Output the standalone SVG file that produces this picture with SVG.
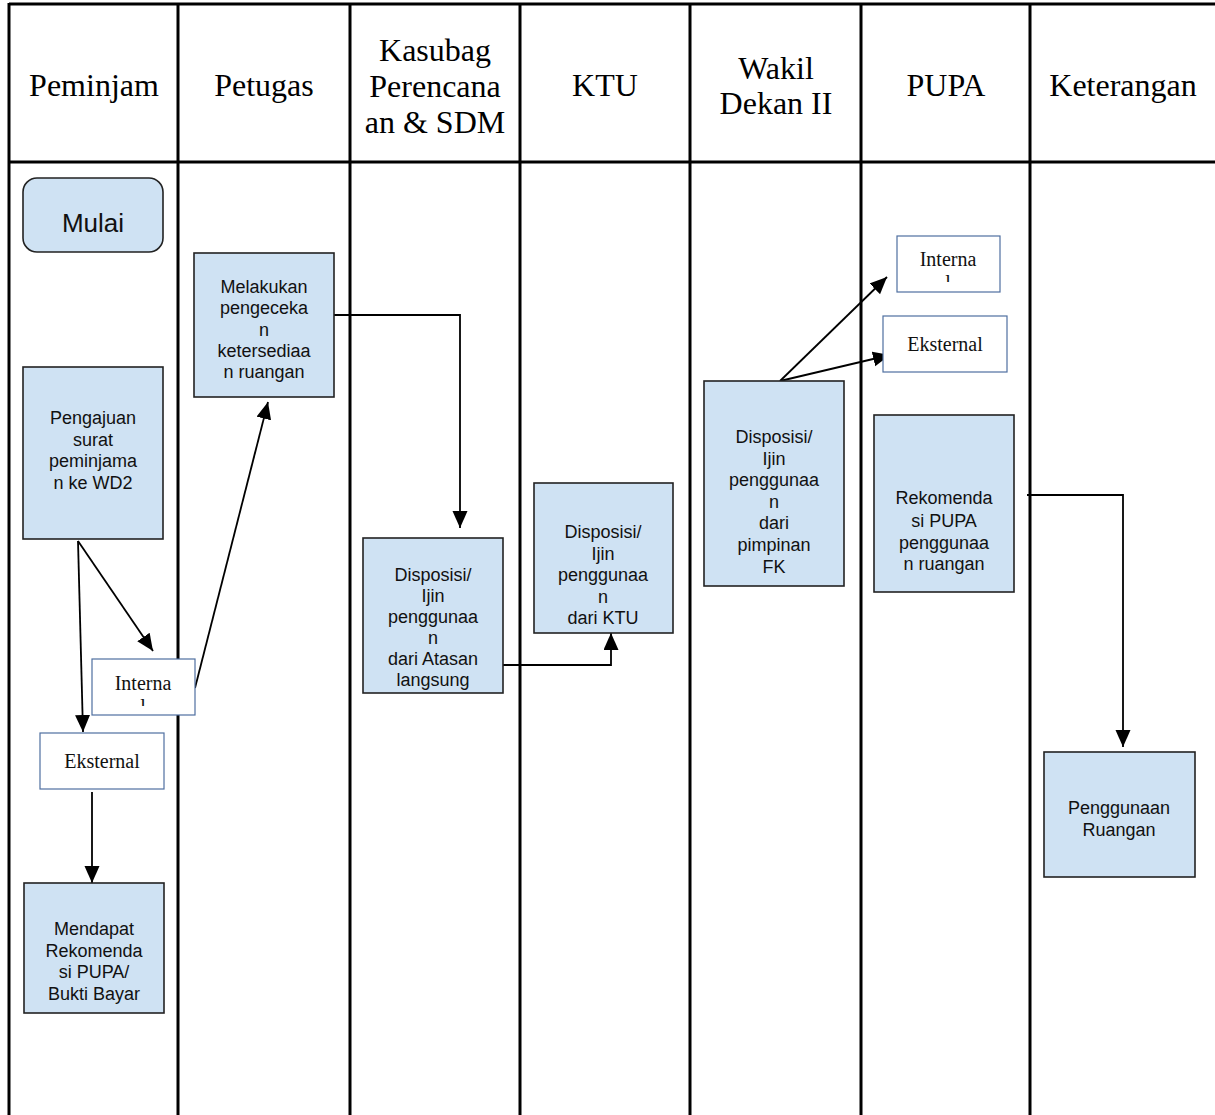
<svg xmlns="http://www.w3.org/2000/svg" width="1215" height="1115" viewBox="0 0 1215 1115">
<style>
.grid{stroke:#000;stroke-width:3;fill:none}
.hdr{font-family:"Liberation Serif","Times New Roman",serif;font-size:32px;fill:#000;text-anchor:middle}
.proc{fill:#cfe2f3;stroke:#222;stroke-width:1.6}
.opt{fill:#fff;stroke:#4f6fa0;stroke-width:1.2}
.t{font-family:"Liberation Sans",Arial,sans-serif;font-size:18px;fill:#111;text-anchor:middle}
.ot{font-family:"Liberation Serif","Times New Roman",serif;font-size:20px;fill:#111;text-anchor:middle}
.c{stroke:#000;stroke-width:1.8;fill:none;marker-end:url(#ah)}
</style>
<defs>
<marker id="ah" markerUnits="userSpaceOnUse" markerWidth="18" markerHeight="16" refX="17" refY="7.5" orient="auto">
<path d="M0,0 L17,7.5 L0,15 z" fill="#000"/>
</marker>
<clipPath id="clipL"><rect x="92" y="659" width="103" height="47"/></clipPath>
<clipPath id="clipR"><rect x="897" y="236" width="103" height="46"/></clipPath>
</defs>
<rect width="1215" height="1115" fill="#fff"/>
<g id="table">
<line class="grid" x1="9" y1="4" x2="1215" y2="4"/>
<line class="grid" x1="9" y1="162" x2="1215" y2="162"/>
<line class="grid" x1="9" y1="3" x2="9" y2="1115"/>
<line class="grid" x1="178" y1="3" x2="178" y2="1115"/>
<line class="grid" x1="350" y1="3" x2="350" y2="1115"/>
<line class="grid" x1="520" y1="3" x2="520" y2="1115"/>
<line class="grid" x1="690" y1="3" x2="690" y2="1115"/>
<line class="grid" x1="861" y1="3" x2="861" y2="1115"/>
<line class="grid" x1="1030" y1="3" x2="1030" y2="1115"/>
<text class="hdr" x="94" y="96">Peminjam</text>
<text class="hdr" x="264" y="96">Petugas</text>
<text class="hdr" x="435" y="61">Kasubag</text>
<text class="hdr" x="435" y="97">Perencana</text>
<text class="hdr" x="435" y="133">an &amp; SDM</text>
<text class="hdr" x="605" y="96">KTU</text>
<text class="hdr" x="776" y="79">Wakil</text>
<text class="hdr" x="776" y="114">Dekan II</text>
<text class="hdr" x="946" y="96">PUPA</text>
<text class="hdr" x="1123" y="96">Keterangan</text>
</g>
<g id="connectors">
<line class="c" x1="78" y1="541" x2="83" y2="732"/>
<line class="c" x1="78" y1="541" x2="153" y2="651"/>
<line class="c" x1="195" y1="688" x2="268" y2="402"/>
<line class="c" x1="92" y1="792" x2="92" y2="883"/>
<polyline class="c" points="334,315 460,315 460,528"/>
<polyline class="c" points="502,665 611,665 611,633"/>
<line class="c" x1="780" y1="381" x2="887" y2="277"/>
<line class="c" x1="780" y1="381" x2="890" y2="355"/>
<polyline class="c" points="1027,495 1123,495 1123,747"/>
</g>
<g id="mulai">
<rect class="proc" x="23" y="178" width="140" height="74" rx="14"/>
<text class="t" x="93" y="232" style="font-size:26px">Mulai</text>
</g>
<g id="pengajuan">
<rect class="proc" x="23" y="367" width="140" height="172"/>
<text class="t" x="93" y="424">Pengajuan</text>
<text class="t" x="93" y="446">surat</text>
<text class="t" x="93" y="467">peminjama</text>
<text class="t" x="93" y="489">n ke WD2</text>
</g>
<g id="interna1">
<rect class="opt" x="92" y="659" width="103" height="56"/>
<g clip-path="url(#clipL)">
<text class="ot" x="143" y="690">Interna</text>
<text class="ot" x="143" y="713">l</text>
</g>
</g>
<g id="eksternal1">
<rect class="opt" x="40" y="733" width="124" height="56"/>
<text class="ot" x="102" y="768">Eksternal</text>
</g>
<g id="mendapat">
<rect class="proc" x="24" y="883" width="140" height="130"/>
<text class="t" x="94" y="935">Mendapat</text>
<text class="t" x="94" y="957">Rekomenda</text>
<text class="t" x="94" y="978">si PUPA/</text>
<text class="t" x="94" y="1000">Bukti Bayar</text>
</g>
<g id="melakukan">
<rect class="proc" x="194" y="253" width="140" height="144"/>
<text class="t" x="264" y="293">Melakukan</text>
<text class="t" x="264" y="314">pengeceka</text>
<text class="t" x="264" y="336">n</text>
<text class="t" x="264" y="357">ketersediaa</text>
<text class="t" x="264" y="378">n ruangan</text>
</g>
<g id="kasubag">
<rect class="proc" x="363" y="538" width="140" height="155"/>
<text class="t" x="433" y="581">Disposisi/</text>
<text class="t" x="433" y="602">Ijin</text>
<text class="t" x="433" y="623">penggunaa</text>
<text class="t" x="433" y="644">n</text>
<text class="t" x="433" y="665">dari Atasan</text>
<text class="t" x="433" y="686">langsung</text>
</g>
<g id="ktu">
<rect class="proc" x="534" y="483" width="139" height="150"/>
<text class="t" x="603" y="538">Disposisi/</text>
<text class="t" x="603" y="560">Ijin</text>
<text class="t" x="603" y="581">penggunaa</text>
<text class="t" x="603" y="603">n</text>
<text class="t" x="603" y="624">dari KTU</text>
</g>
<g id="wakil">
<rect class="proc" x="704" y="381" width="140" height="205"/>
<text class="t" x="774" y="443">Disposisi/</text>
<text class="t" x="774" y="465">Ijin</text>
<text class="t" x="774" y="486">penggunaa</text>
<text class="t" x="774" y="508">n</text>
<text class="t" x="774" y="529">dari</text>
<text class="t" x="774" y="551">pimpinan</text>
<text class="t" x="774" y="573">FK</text>
</g>
<g id="interna2">
<rect class="opt" x="897" y="236" width="103" height="56"/>
<g clip-path="url(#clipR)">
<text class="ot" x="948" y="266">Interna</text>
<text class="ot" x="948" y="289">l</text>
</g>
</g>
<g id="eksternal2">
<rect class="opt" x="883" y="316" width="124" height="56"/>
<text class="ot" x="945" y="351">Eksternal</text>
</g>
<g id="rekomendasi">
<rect class="proc" x="874" y="415" width="140" height="177"/>
<text class="t" x="944" y="504">Rekomenda</text>
<text class="t" x="944" y="527">si PUPA</text>
<text class="t" x="944" y="549">penggunaa</text>
<text class="t" x="944" y="570">n ruangan</text>
</g>
<g id="penggunaan">
<rect class="proc" x="1044" y="752" width="151" height="125"/>
<text class="t" x="1119" y="814">Penggunaan</text>
<text class="t" x="1119" y="836">Ruangan</text>
</g>
</svg>
